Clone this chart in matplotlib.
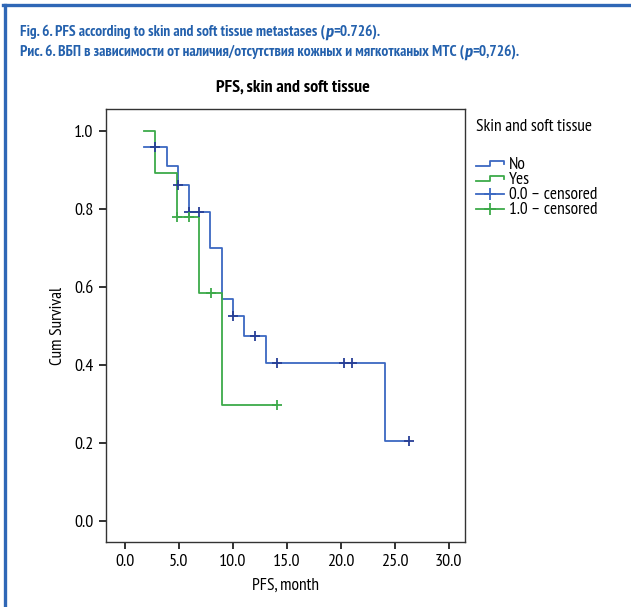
import matplotlib
matplotlib.use('Agg')
import matplotlib.pyplot as plt
from matplotlib.lines import Line2D
from matplotlib.legend_handler import HandlerBase
from matplotlib import font_manager

# pick a narrow font that is installed
fonts = font_manager.fontManager.ttflist
avail = set(f.name for f in fonts)
narrow = 'DejaVu Sans'
for cand in ['PT Sans Narrow', 'Fira Sans Condensed', 'Roboto Condensed', 'Encode Sans Condensed',
             'Archivo Narrow', 'Asap Condensed', 'Liberation Sans Narrow']:
    if cand in avail:
        narrow = cand
        break
plt.rcParams['font.family'] = [narrow, 'DejaVu Sans']

# a narrow family that really has an italic face, for the "p"
italic_fam = narrow
for cand in ['Fira Sans Condensed', 'Roboto Condensed', 'Asap Condensed', 'Archivo Narrow', 'PT Sans']:
    if any(f.name == cand and f.style == 'italic' for f in fonts):
        italic_fam = cand
        break

# Kaplan-Meier steps
no_t = [1.8, 3.9, 4.9, 5.9, 7.9, 9.0, 10.0, 11.0, 13.05, 24.1, 26.3]
no_s = [0.958, 0.910, 0.862, 0.791, 0.700, 0.570, 0.525, 0.473, 0.405, 0.205, 0.205]
no_cens_t = [2.8, 4.9, 5.9, 6.9, 10.0, 12.0, 14.1, 20.3, 21.0, 26.3]
no_cens_s = [0.958, 0.862, 0.791, 0.791, 0.525, 0.473, 0.405, 0.405, 0.405, 0.205]

yes_t = [1.8, 2.8, 4.85, 6.9, 8.95, 14.1]
yes_s = [1.0, 0.893, 0.780, 0.584, 0.297, 0.297]
yes_cens_t = [4.8, 5.9, 8.0, 14.1]
yes_cens_s = [0.780, 0.780, 0.584, 0.297]

xticks = [0, 5, 10, 15, 20, 25, 30]
yticks = [0.0, 0.2, 0.4, 0.6, 0.8, 1.0]
legend_labels = ['No', 'Yes', '0.0 \u2013 censored', '1.0 \u2013 censored']

fig_line1 = [('Fig. 6. PFS according to skin and soft tissue metastases (', 'normal'),
             ('p', 'italic'), ('=0.726).', 'normal')]
fig_line2 = [('\u0420\u0438\u0441. 6. \u0412\u0411\u041f \u0432 \u0437\u0430\u0432\u0438\u0441\u0438\u043c\u043e\u0441\u0442\u0438 '
              '\u043e\u0442 \u043d\u0430\u043b\u0438\u0447\u0438\u044f/\u043e\u0442\u0441\u0443\u0442\u0441\u0442\u0432\u0438\u044f '
              '\u043a\u043e\u0436\u043d\u044b\u0445 \u0438 \u043c\u044f\u0433\u043a\u043e\u0442\u043a\u0430\u043d\u044b\u0445 \u041c\u0422\u0421 (', 'normal'),
             ('p', 'italic'), ('=0,726).', 'normal')]

blue = '#3b68c2'
blue_dark = '#283f96'
green = '#3daa4a'
title_blue = '#2461ad'

fig = plt.figure(figsize=(6.31, 6.07), dpi=100)
W, H = 631.0, 607.0
ax = fig.add_axes([106/W, 1 - 542/H, (465-106)/W, (542-109)/H])

ax.step(no_t, no_s, where='post', color=blue, lw=1.3)
ax.step(yes_t, yes_s, where='post', color=green, lw=1.3)
ax.plot(no_cens_t, no_cens_s, ls='none', marker='+', ms=6.5, mew=1.3, color=blue_dark)
ax.plot(yes_cens_t, yes_cens_s, ls='none', marker='+', ms=6.5, mew=1.3, color=green)

ax.set_xlim(-1.76, 31.5)
ax.set_ylim(-0.054, 1.056)
ax.set_xticks(xticks)
ax.set_xticklabels(['%.1f' % v for v in xticks])
ax.set_yticks(yticks)
ax.set_yticklabels(['%.1f' % v for v in yticks])
ax.tick_params(direction='out', length=5, width=1.3, labelsize=13, color='#222222', pad=4)
for s in ax.spines.values():
    s.set_linewidth(1.0)
    s.set_color('#333333')
ax.set_xlabel('PFS, month', fontsize=12.5, labelpad=5)
ax.set_ylabel('Cum Survival', fontsize=12.5, labelpad=6)
fig.text(293/W, 1 - 88/H, 'PFS, skin and soft tissue', fontsize=13, fontweight='bold',
         ha='center', va='center')


class StepHandler(HandlerBase):
    def create_artists(self, legend, orig_handle, xdescent, ydescent, width, height, fontsize, trans):
        x0 = -xdescent
        y0 = -ydescent
        xs = [x0, x0 + 0.5*width, x0 + 0.5*width, x0 + width, x0 + width]
        ys = [y0 + 0.2*height, y0 + 0.2*height, y0 + 0.7*height, y0 + 0.7*height, y0 + 0.4*height]
        return [Line2D(xs, ys, color=orig_handle.get_color(), lw=1.3, transform=trans)]


h_no = Line2D([], [], color=blue)
h_yes = Line2D([], [], color=green)
h_c0 = Line2D([], [], color=blue, marker='+', ms=9, mew=1.3, lw=1.3)
h_c1 = Line2D([], [], color=green, marker='+', ms=9, mew=1.3, lw=1.3)

fig.text(476/W, 1 - 127/H, 'Skin and soft tissue', fontsize=12.5, va='center', ha='left')
leg = fig.legend([h_no, h_yes, h_c0, h_c1], legend_labels,
                 handler_map={h_no: StepHandler(), h_yes: StepHandler()},
                 loc='upper left', bbox_to_anchor=(476/W, 1 - 157/H), frameon=False,
                 fontsize=12.5, handlelength=1.6, handletextpad=0.3, labelspacing=-0.05,
                 borderaxespad=0, borderpad=0, handleheight=0.5)

# figure caption (two lines, italic p), scaled to the reference line width
renderer = fig.canvas.get_renderer()


def draw_pieces(y, pieces, size):
    x = 20/W
    arts = []
    for s, style in pieces:
        fam = [italic_fam, 'DejaVu Sans'] if style == 'italic' else [narrow, 'DejaVu Sans']
        t = fig.text(x, y, s, fontsize=size, fontweight='bold', style=style, family=fam,
                     color=title_blue, va='center', ha='left')
        bb = t.get_window_extent(renderer)
        x = bb.x1 / fig.bbox.width
        arts.append(t)
    return arts, x * W - 20


arts, w2 = draw_pieces(1 - 52/H, fig_line2, 13)
for a in arts:
    a.remove()
arts, w1 = draw_pieces(1 - 32/H, fig_line1, 13)
for a in arts:
    a.remove()
cap_size = 13 * 0.5 * (482.0 / w2 + 373.0 / w1)
draw_pieces(1 - 32/H, fig_line1, cap_size)
draw_pieces(1 - 52/H, fig_line2, cap_size)

# blue frame lines (left and top)
fig.add_artist(Line2D([4.5/W, 4.5/W], [0, 1 - 4.5/H], color='#2f67b6', lw=2.4, transform=fig.transFigure))
fig.add_artist(Line2D([3/W, 1], [1 - 4.5/H, 1 - 4.5/H], color='#2f67b6', lw=2.4, transform=fig.transFigure))

fig.savefig('out.png', dpi=100)
